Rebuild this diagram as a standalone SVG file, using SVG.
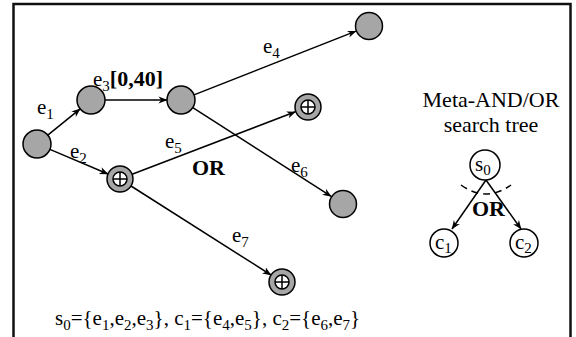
<svg xmlns="http://www.w3.org/2000/svg" width="576" height="337" viewBox="0 0 576 337">
<defs>
<marker id="arr" viewBox="0 0 10 10" refX="9.5" refY="5" markerWidth="9" markerHeight="9" markerUnits="userSpaceOnUse" orient="auto">
<path d="M0,1 L10,5 L0,9 L3,5 Z" fill="#000"/>
</marker>
</defs>
<style>
text{font-family:"Liberation Serif","Times New Roman",serif;font-size:21px;fill:#000}
.sub{font-size:15px}
.b{font-weight:bold;font-size:22px}
.big{font-size:22px}
.n{fill:#a6a6a6;stroke:#000;stroke-width:1.5}
.w{fill:#fff;stroke:#000;stroke-width:1.5}
.e{stroke:#000;stroke-width:1.5;fill:none;marker-end:url(#arr)}
.x{stroke:#000;stroke-width:1.5}
</style>
<rect x="13.5" y="4" width="557" height="350" fill="none" stroke="#111" stroke-width="2.5"/>
<g id="connectors">
<line class="e" x1="47.8" y1="135.2" x2="80.2" y2="108.8"/>
<line class="e" x1="49.9" y1="149.4" x2="108" y2="174"/>
<line class="e" x1="105" y1="100" x2="167" y2="100"/>
<line class="e" x1="194" y1="94.9" x2="356" y2="31.1"/>
<line class="e" x1="132.1" y1="174.3" x2="295.4" y2="111.8"/>
<line class="e" x1="192.8" y1="107.6" x2="331.2" y2="196.4"/>
<line class="e" x1="131" y1="186" x2="271" y2="275"/>
<line class="e" x1="486" y1="180" x2="452" y2="229"/>
<line class="e" x1="486" y1="180" x2="521" y2="229"/>
<path d="M461,185 Q486,203 511,185" fill="none" stroke="#000" stroke-width="1.5" stroke-dasharray="7,5"/>
</g>
<g id="n0"><circle class="n" cx="37" cy="144" r="14"/></g>
<g id="n1"><circle class="n" cx="91" cy="100" r="14"/></g>
<g id="n2"><circle class="n" cx="181" cy="100" r="14"/></g>
<g id="n3"><circle class="n" cx="369" cy="26" r="13.5"/></g>
<g id="n4"><circle class="n" cx="308" cy="107" r="13"/><circle class="w" cx="308" cy="107" r="7"/><line class="x" x1="301" y1="107" x2="315" y2="107"/><line class="x" x1="308" y1="100" x2="308" y2="114"/></g>
<g id="n5"><circle class="n" cx="343" cy="204" r="13.5"/></g>
<g id="n6"><circle class="n" cx="120" cy="179" r="13"/><circle class="w" cx="120" cy="179" r="7"/><line class="x" x1="113" y1="179" x2="127" y2="179"/><line class="x" x1="120" y1="172" x2="120" y2="186"/></g>
<g id="n7"><circle class="n" cx="282" cy="282" r="13"/><circle class="w" cx="282" cy="282" r="7"/><line class="x" x1="275" y1="282" x2="289" y2="282"/><line class="x" x1="282" y1="275" x2="282" y2="289"/></g>
<g id="s0"><circle class="w" cx="485" cy="165" r="15"/><text x="475" y="171">s<tspan class="sub" dy="4">0</tspan></text></g>
<g id="c1"><circle class="w" cx="444" cy="243" r="14"/><text x="435" y="249">c<tspan class="sub" dy="4">1</tspan></text></g>
<g id="c2"><circle class="w" cx="524" cy="243" r="14"/><text x="515" y="249">c<tspan class="sub" dy="4">2</tspan></text></g>
<g id="labels">
<text x="37" y="114">e<tspan class="sub" dy="5">1</tspan></text>
<text x="70" y="158">e<tspan class="sub" dy="5">2</tspan></text>
<text x="93" y="86">e<tspan class="sub" dy="5">3</tspan><tspan class="b" dy="-5">[0,40]</tspan></text>
<text x="263" y="53">e<tspan class="sub" dy="5">4</tspan></text>
<text x="165" y="148">e<tspan class="sub" dy="5">5</tspan></text>
<text x="291" y="172">e<tspan class="sub" dy="5">6</tspan></text>
<text x="232" y="242">e<tspan class="sub" dy="5">7</tspan></text>
<text class="b" x="192" y="175">OR</text>
<text class="b" x="472" y="216">OR</text>
<text class="big" x="491" y="107" text-anchor="middle">Meta-AND/OR</text>
<text class="big" x="491" y="132" text-anchor="middle">search tree</text>
<text x="55" y="325">s<tspan class="sub" dy="5">0</tspan><tspan dy="-5">={e</tspan><tspan class="sub" dy="5">1</tspan><tspan dy="-5">,e</tspan><tspan class="sub" dy="5">2</tspan><tspan dy="-5">,e</tspan><tspan class="sub" dy="5">3</tspan><tspan dy="-5">}, c</tspan><tspan class="sub" dy="5">1</tspan><tspan dy="-5">={e</tspan><tspan class="sub" dy="5">4</tspan><tspan dy="-5">,e</tspan><tspan class="sub" dy="5">5</tspan><tspan dy="-5">}, c</tspan><tspan class="sub" dy="5">2</tspan><tspan dy="-5">={e</tspan><tspan class="sub" dy="5">6</tspan><tspan dy="-5">,e</tspan><tspan class="sub" dy="5">7</tspan><tspan dy="-5">}</tspan></text>
</g>
</svg>
